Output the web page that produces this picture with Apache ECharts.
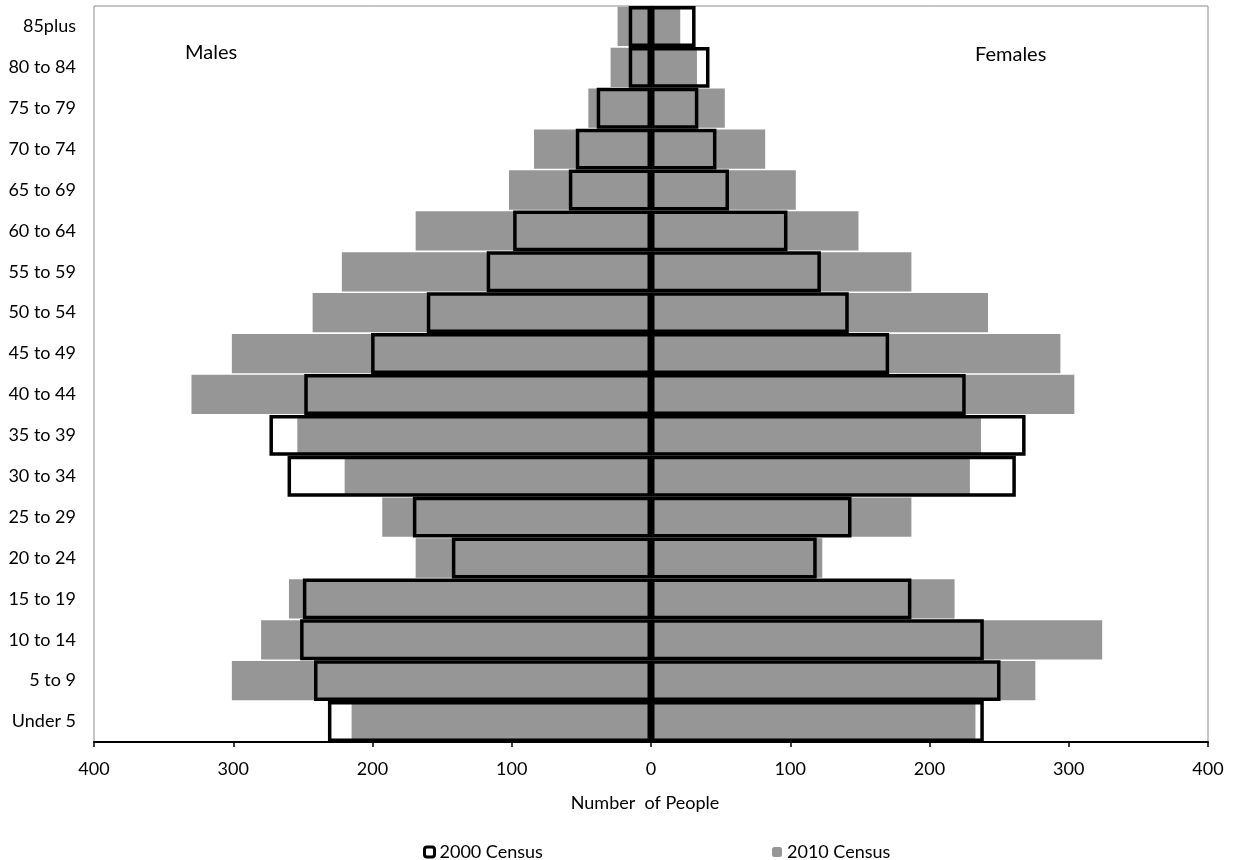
<!DOCTYPE html>
<html>
<head>
<meta charset="utf-8">
<script src="https://cdn.jsdelivr.net/npm/echarts@6/dist/echarts.min.js"></script>
<style>
html,body{margin:0;padding:0;background:#fff;}
#chart{width:1237px;height:860px;}
</style>
</head>
<body>
<div id="chart"></div>
<script>
const categories = ["Under 5","5 to 9","10 to 14","15 to 19","20 to 24","25 to 29","30 to 34","35 to 39","40 to 44","45 to 49","50 to 54","55 to 59","60 to 64","65 to 69","70 to 74","75 to 79","80 to 84","85plus"];
const males2010 = [215,301,280,260,169,193,220,254,330,301,243,222,169,102,84,45,29,24];
const females2010 = [233,276,324,218,123,187,229,237,304,294,242,187,149,104,82,53,33,21];
const males2000 = [232,242,252,250,143,171,261,274,249,201,161,118,99,59,54,39,16,16];
const females2000 = [239,251,239,187,119,144,262,269,226,171,142,122,98,56,47,34,42,32];
const xTicks = [-400,-300,-200,-100,0,100,200,300,400];

const FONT = 'Lato';
const chart = echarts.init(document.getElementById('chart'), null, {renderer:'canvas'});
const outlineStyle = {color:'rgba(0,0,0,0)', borderColor:'#000', borderWidth:3.5};
const grayStyle = {color:'#969696'};
const grayCommon = {type:'bar', yAxisIndex:0, barGap:'-100%', barCategoryGap:'4%', animation:false, silent:true};
const outCommon = {type:'bar', yAxisIndex:1, barGap:'-100%', barCategoryGap:'0%', animation:false, silent:true};

chart.setOption({
  backgroundColor:'#fff',
  animation:false,
  grid:{left:94, right:29, top:6, bottom:118, show:true, borderColor:'#8c8c8c', borderWidth:1, backgroundColor:'rgba(0,0,0,0)'},
  xAxis:{
    type:'value', min:xTicks[0], max:xTicks[xTicks.length-1], interval:100,
    axisLine:{show:true, onZero:false, lineStyle:{color:'#000', width:2}},
    axisTick:{show:true, length:5, lineStyle:{color:'#000', width:1.5}},
    splitLine:{show:false},
    axisLabel:{fontFamily:FONT, fontSize:18, color:'#000', margin:18, formatter:v=>String(Math.abs(v))},
    name:'Number  of People', nameLocation:'middle', nameGap:52,
    nameTextStyle:{fontFamily:FONT, fontSize:18, color:'#000', padding:[0,12,0,0]}
  },
  yAxis:[
    {
      type:'category', data:categories,
      axisLine:{show:true, lineStyle:{color:'#8c8c8c', width:1}},
      axisTick:{show:false},
      axisLabel:{fontFamily:FONT, fontSize:18, color:'#000', margin:18}
    },
    {
      type:'category', data:categories, position:'left', show:false
    }
  ],
  legend:[
    {data:[{name:'2000 Census', itemStyle:{color:'#fff', borderColor:'#000', borderWidth:3}}], left:418, top:838, itemWidth:10, itemHeight:10, selectedMode:false,
     textStyle:{fontFamily:FONT, fontSize:18, color:'#000'}},
    {data:[{name:'2010 Census'}], left:767, top:838, itemWidth:10, itemHeight:10, selectedMode:false,
     textStyle:{fontFamily:FONT, fontSize:18, color:'#000'}}
  ],
  graphic:[
    {type:'text', left:185, top:43, style:{text:'Males', font:'20px Lato', fill:'#000'}},
    {type:'text', left:975, top:45, style:{text:'Females', font:'20px Lato', fill:'#000'}}
  ],
  series:[
    Object.assign({name:'2010 Census', data:males2010.map(v=>-v), itemStyle:grayStyle, z:2}, grayCommon),
    Object.assign({name:'2010 Census', data:females2010, itemStyle:grayStyle, z:2}, grayCommon),
    Object.assign({name:'2000 Census', data:males2000.map(v=>-v), itemStyle:outlineStyle, z:3}, outCommon),
    Object.assign({name:'2000 Census', data:females2000, itemStyle:outlineStyle, z:3}, outCommon)
  ]
});
</script>
</body>
</html>
